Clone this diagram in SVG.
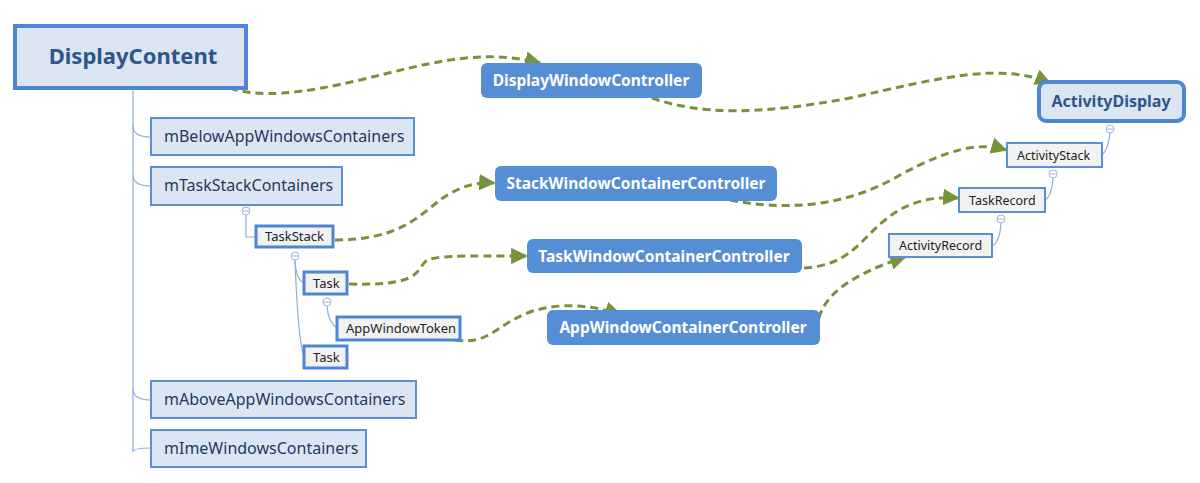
<svg xmlns="http://www.w3.org/2000/svg" width="1200" height="483" viewBox="0 0 1200 483">
<defs>
<marker id="arr" viewBox="0 0 10 10" refX="9" refY="5" markerWidth="5.5" markerHeight="5.5" orient="auto" markerUnits="strokeWidth">
<path d="M0,0 L10,5 L0,10 z" fill="#76923c"/>
</marker>
</defs>
<style>
text{font-family:"Noto Sans","Open Sans","Liberation Sans",sans-serif}
.root{fill:#dce6f2;stroke:#4f86d4;stroke-width:4}
.root-t{font-size:22px;font-weight:bold;fill:#2f5589}
.lvl1{fill:#dce6f2;stroke:#5a8fd6;stroke-width:2}
.lvl1-t{font-size:16px;fill:#1f3a5f}
.leaf{fill:#f2f2f2;stroke:#4f86d4;stroke-width:3}
.leaf-t{font-size:12.5px;fill:#222}
.ctl{fill:#558ed5}
.ctl-t{font-size:15.5px;font-weight:bold;fill:#fff}
.tree{fill:none;stroke:#8caee2;stroke-width:1.2}
.knob{fill:#fff;stroke:#9bb5e0;stroke-width:1}
.dash{fill:none;stroke:#76923c;stroke-width:3;stroke-dasharray:8 5;marker-end:url(#arr)}
</style>
<g id="tree-lines">
<path class="tree" d="M133,88 V452 Q133,448 151,448"/>
<path class="tree" d="M133,126 Q133,137 151,137"/>
<path class="tree" d="M133,175 Q133,186 151,186"/>
<path class="tree" d="M133,389 Q133,400 151,400"/>
<path class="tree" d="M246,215 V237 H255"/>
<path class="tree" d="M295,260 Q296,280 304,283"/>
<path class="tree" d="M295,260 Q298,340 304,357"/>
<path class="tree" d="M327,306 Q328,322 337,328"/>
<path class="tree" d="M1110,133 Q1108,150 1102,155"/>
<path class="tree" d="M1053,178 Q1052,196 1045,200"/>
<path class="tree" d="M1001,223 Q1000,242 992,246"/>
</g>
<g id="knobs">
<circle class="knob" cx="246" cy="211" r="4"/><path d="M243,211 h6" stroke="#9bb5e0"/>
<circle class="knob" cx="295" cy="256" r="4"/><path d="M292,256 h6" stroke="#9bb5e0"/>
<circle class="knob" cx="327" cy="302" r="4"/><path d="M324,302 h6" stroke="#9bb5e0"/>
<circle class="knob" cx="1110" cy="129" r="4"/><path d="M1107,129 h6" stroke="#9bb5e0"/>
<circle class="knob" cx="1053" cy="174" r="4"/><path d="M1050,174 h6" stroke="#9bb5e0"/>
<circle class="knob" cx="1001" cy="219" r="4"/><path d="M998,219 h6" stroke="#9bb5e0"/>
</g>
<g id="connectors">
<path class="dash" d="M230,88 C260,98 300,94 360,80 C430,63 480,48 540,63"/>
<path class="dash" d="M652,98 C700,115 760,115 850,98 C940,78 1000,62 1050,83"/>
<path class="dash" d="M335,240 C400,240 420,215 440,200 C460,186 475,182 494,183"/>
<path class="dash" d="M730,200 C790,212 850,205 900,175 C950,148 980,142 1006,150"/>
<path class="dash" d="M349,284 C420,286 415,272 425,262 C432,255 460,256 526,256"/>
<path class="dash" d="M804,268 C850,265 860,240 885,220 C905,203 930,196 958,198"/>
<path class="dash" d="M455,340 C490,345 495,325 530,312 C560,302 590,305 620,314"/>
<path class="dash" d="M819,318 C825,295 850,275 905,257"/>
</g>
<g id="DisplayContent"><rect class="root" x="15" y="26" width="231" height="62"/><text class="root-t" x="133" y="64" text-anchor="middle">DisplayContent</text></g>
<g id="mBelowAppWindowsContainers"><rect class="lvl1" x="151" y="118" width="263" height="37"/><text class="lvl1-t" x="164" y="142">mBelowAppWindowsContainers</text></g>
<g id="mTaskStackContainers"><rect class="lvl1" x="151" y="167" width="191" height="38"/><text class="lvl1-t" x="164" y="191">mTaskStackContainers</text></g>
<g id="mAboveAppWindowsContainers"><rect class="lvl1" x="151" y="381" width="265" height="37"/><text class="lvl1-t" x="164" y="405">mAboveAppWindowsContainers</text></g>
<g id="mImeWindowsContainers"><rect class="lvl1" x="151" y="430" width="215" height="37"/><text class="lvl1-t" x="164" y="454">mImeWindowsContainers</text></g>
<g id="TaskStack"><rect class="leaf" x="256" y="226" width="77" height="21"/><text class="leaf-t" style="font-size:13px" x="265" y="241">TaskStack</text></g>
<g id="Task1"><rect class="leaf" x="304" y="272" width="43" height="22"/><text class="leaf-t" style="font-size:13px" x="313" y="288">Task</text></g>
<g id="AppWindowToken"><rect class="leaf" x="337" y="317" width="123" height="23"/><text class="leaf-t" style="font-size:13px" x="346" y="333">AppWindowToken</text></g>
<g id="Task2"><rect class="leaf" x="304" y="346" width="43" height="22"/><text class="leaf-t" style="font-size:13px" x="313" y="362">Task</text></g>
<g id="DisplayWindowController"><rect class="ctl" x="481" y="63" width="221" height="35" rx="6"/><text class="ctl-t" x="591" y="86" text-anchor="middle">DisplayWindowController</text></g>
<g id="StackWindowContainerController"><rect class="ctl" x="495" y="166" width="282" height="35" rx="6"/><text class="ctl-t" x="636" y="189" text-anchor="middle">StackWindowContainerController</text></g>
<g id="TaskWindowContainerController"><rect class="ctl" x="527" y="239" width="275" height="34" rx="6"/><text class="ctl-t" x="664" y="262" text-anchor="middle">TaskWindowContainerController</text></g>
<g id="AppWindowContainerController"><rect class="ctl" x="547" y="310" width="273" height="35" rx="6"/><text class="ctl-t" x="683" y="333" text-anchor="middle">AppWindowContainerController</text></g>
<g id="ActivityDisplay"><rect class="root" x="1039" y="82" width="145" height="39" rx="7"/><text class="root-t" style="font-size:16px" x="1111" y="107" text-anchor="middle">ActivityDisplay</text></g>
<g id="ActivityStack"><rect class="lvl1" style="fill:#f2f2f2" x="1007" y="143" width="95" height="24"/><text class="leaf-t" x="1017" y="160">ActivityStack</text></g>
<g id="TaskRecord"><rect class="lvl1" style="fill:#f2f2f2" x="959" y="188" width="86" height="24"/><text class="leaf-t" x="969" y="205">TaskRecord</text></g>
<g id="ActivityRecord"><rect class="lvl1" style="fill:#f2f2f2" x="889" y="234" width="103" height="23"/><text class="leaf-t" x="899" y="250">ActivityRecord</text></g>
</svg>
